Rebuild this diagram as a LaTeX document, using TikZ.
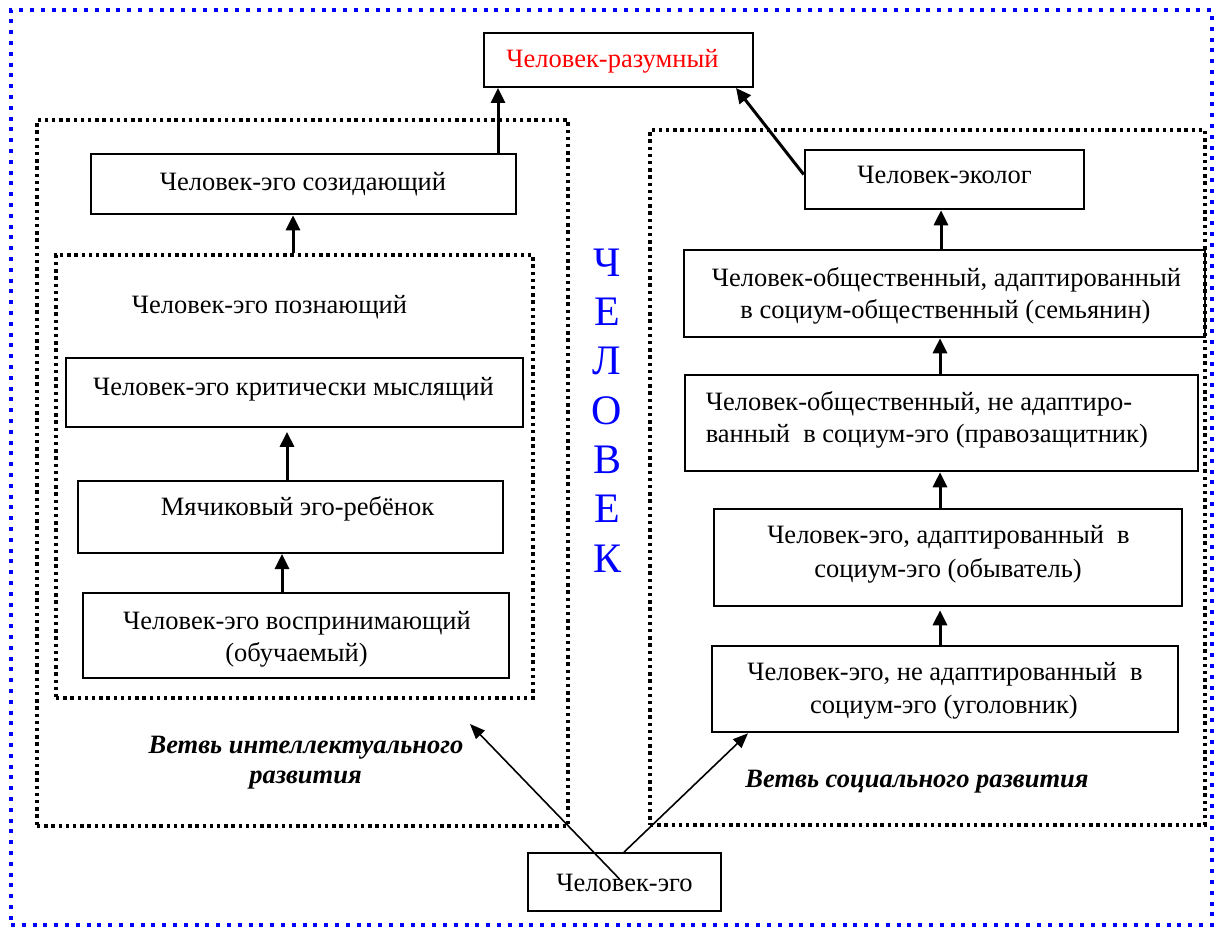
\documentclass[tikz,border=0pt]{standalone}
\usepackage{fontspec}
\setmainfont{Liberation Serif}
\usetikzlibrary{arrows.meta,fit}
\begin{document}
\begin{tikzpicture}[x=1pt,y=-1pt,
  bluefr/.style={draw=blue,line width=4pt,dash pattern=on 4pt off 6.8pt,inner sep=0pt,rectangle},
  blackfr/.style={draw=black,line width=3.2pt,dash pattern=on 3.4pt off 3.8pt,inner sep=0pt,rectangle},
  box/.style={draw,line width=2.6pt,inner sep=0pt,rectangle},
  mbox/.style={box,line width=2pt},
  tbox/.style={box,line width=1.7pt},
  txt/.style={font=\fontsize{26.5}{31}\selectfont,anchor=base,inner sep=0pt},
  txtl/.style={txt,anchor=base west},
  bi/.style={txt,font=\fontsize{26.5}{31}\selectfont\bfseries\itshape},
  arr/.style={line width=3pt,-{Triangle[length=15pt,width=14pt]}},
  tarr/.style={line width=1.6pt,-{Triangle[length=15pt,width=12pt]}},
]
\useasboundingbox (0,0) rectangle (1215,928);
\fill[white] (0,0) rectangle (1215,928);

% frames
\node[bluefr,fit={(11,10)(1212,925)}] (outer) {};
\node[blackfr,fit={(37,120)(568,826)}] (leftfr) {};
\node[blackfr,fit={(650,130)(1205,825)}] (rightfr) {};
\node[blackfr,fit={(56,255)(533,698)}] (inner) {};

% boxes
\node[mbox,fit={(484,33)(753,87)}] (raz) {};
\node[box,fit={(91,154)(516,214)}] (soz) {};
\node[tbox,fit={(66,358)(523,427)}] (krit) {};
\node[mbox,fit={(78,481)(503,553)}] (myach) {};
\node[mbox,fit={(83,593)(509,678)}] (vospr) {};
\node[tbox,fit={(528,853)(721,911)}] (ego) {};
\node[box,fit={(805,150)(1084,209)}] (ekol) {};
\node[box,fit={(684,250)(1205,337)}] (sem) {};
\node[box,fit={(685,375)(1198,471)}] (prav) {};
\node[box,fit={(714,509)(1182,606)}] (obyv) {};
\node[box,fit={(712,646)(1178,732)}] (ugol) {};

% texts
\node[txt,text=red] (traz) at (612.5,68) {Человек-разумный};
\node[txt] (tsoz) at (303,191) {Человек-эго созидающий};
\node[txt] (tpozn) at (269.5,313) {Человек-эго познающий};
\node[txt] (tkrit) at (293.5,395) {Человек-эго критически мыслящий};
\node[txt] (tmyach) at (297.5,515) {Мячиковый эго-ребёнок};
\node[txt] (tvospr1) at (297,629) {Человек-эго воспринимающий};
\node[txt] (tvospr2) at (296.5,661) {(обучаемый)};
\node[txt] (tego) at (624.5,891) {Человек-эго};
\node[txt] (tekol) at (944.5,184) {Человек-эколог};
\node[txt] (tsem1) at (946.5,286) {Человек-общественный, адаптированный};
\node[txt] (tsem2) at (945.5,318) {в социум-общественный (семьянин)};
\node[txtl] (tprav1) at (705.6,410) {Человек-общественный, не адаптиро-};
\node[txtl] (tprav2) at (705.6,442) {ванный\ \ в социум-эго (правозащитник)};
\node[txt] (tobyv1) at (948.5,543) {Человек-эго, адаптированный\ \ в};
\node[txt] (tobyv2) at (948,577) {социум-эго (обыватель)};
\node[txt] (tugol1) at (945,680) {Человек-эго, не адаптированный\ \ в};
\node[txt] (tugol2) at (944,713) {социум-эго (уголовник)};
\node[bi] (bint1) at (306,753) {Ветвь интеллектуального};
\node[bi] (bint2) at (305.5,783) {развития};
\node[bi] (bsoc) at (917,787) {Ветвь социального развития};
\node[font=\fontsize{42}{49.3}\selectfont,text=blue,align=center,inner sep=0pt] (chel) at (607,410.5) {Ч\\Е\\Л\\О\\В\\Е\\К};

% x positions of connectors
\coordinate (xA) at (498,0);
\coordinate (xB) at (293,0);
\coordinate (xC) at (287,0);
\coordinate (xD) at (282,0);
\coordinate (xE) at (736,0);
\coordinate (xF) at (941,0);
\coordinate (xG) at (940,0);
\coordinate (xH) at (624,0);
\coordinate (xI) at (748,0);
\coordinate (tipL) at (470,724);

% connectors
\draw[arr] (soz.north -| xA) -- (raz.south -| xA);
\draw[arr] (inner.north -| xB) -- (soz.south -| xB);
\draw[arr,shorten >=4pt] (myach.north -| xC) -- (krit.south -| xC);
\draw[arr] (vospr.north -| xD) -- (myach.south -| xD);
\draw[arr] ([yshift=5pt]ekol.west) -- (raz.south -| xE);
\draw[arr] (sem.north -| xF) -- (ekol.south -| xF);
\draw[arr] (prav.north -| xG) -- (sem.south -| xG);
\draw[arr] (obyv.north -| xG) -- (prav.south -| xG);
\draw[arr,shorten >=3pt] (ugol.north -| xG) -- (obyv.south -| xG);
\draw[tarr] ([xshift=-5pt,yshift=3pt]ego.center) -- (tipL);
\draw[tarr] (ego.north -| xH) -- (ugol.south -| xI);
\end{tikzpicture}
\end{document}
